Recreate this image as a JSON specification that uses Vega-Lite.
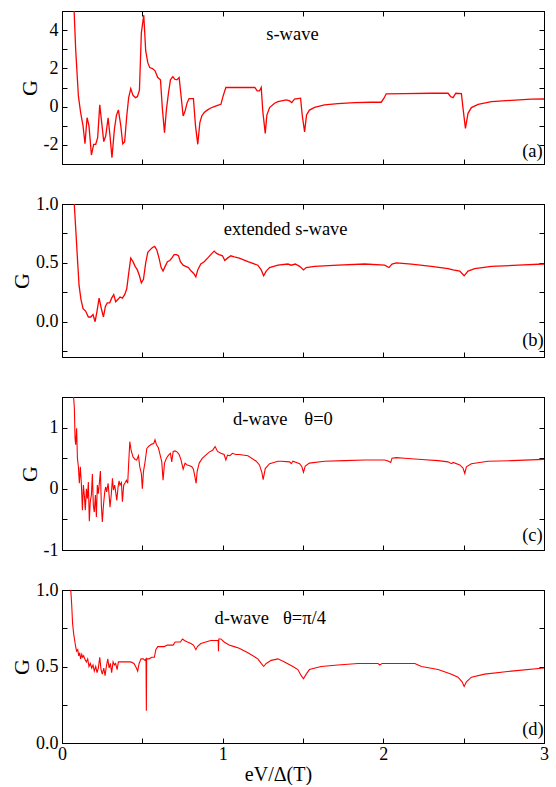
{
  "$schema": "https://vega.github.io/schema/vega-lite/v6.json",
  "autosize": {"type": "pad"},
  "padding": {"left": 10, "top": 1, "right": 12, "bottom": 0},
  "bounds": "flush",
  "spacing": 40,
  "background": "white",
  "config": {
    "font": "Liberation Serif",
    "view": {"stroke": "black", "strokeWidth": 1},
    "axis": {"grid": false, "domainColor": "black", "tickColor": "black", "labelColor": "black", "titleColor": "black", "tickSize": -5, "labelPadding": 9, "labelFont": "Liberation Serif", "titleFont": "Liberation Serif", "labelFontSize": 18, "titleFontWeight": "normal", "labelFlush": false, "labelOverlap": false, "labelBound": false, "domainWidth": 1, "tickWidth": 1}
  },
  "datasets": {
    "a": [
      {"x":0.07,"y":6},{"x":0.075,"y":5.1},{"x":0.085,"y":3.0},{"x":0.102,"y":0.56},{"x":0.116,"y":-0.31},{"x":0.131,"y":-1.01},{"x":0.143,"y":-1.94},{"x":0.156,"y":-0.58},{"x":0.168,"y":-1.01},{"x":0.183,"y":-2.53},{"x":0.197,"y":-1.97},{"x":0.21,"y":-1.97},{"x":0.222,"y":-1.62},{"x":0.235,"y":0.09},{"x":0.247,"y":-0.84},{"x":0.26,"y":-1.83},{"x":0.272,"y":-1.54},{"x":0.287,"y":-0.59},{"x":0.299,"y":-1.54},{"x":0.311,"y":-2.67},{"x":0.326,"y":-1.19},{"x":0.339,"y":-0.45},{"x":0.351,"y":-0.17},{"x":0.366,"y":-1.01},{"x":0.378,"y":-1.94},{"x":0.39,"y":-1.83},{"x":0.403,"y":-0.49},{"x":0.415,"y":0.47},{"x":0.428,"y":0.94},{"x":0.442,"y":0.59},{"x":0.457,"y":0.47},{"x":0.469,"y":0.52},{"x":0.482,"y":0.86},{"x":0.494,"y":3.87},{"x":0.509,"y":4.78},{"x":0.521,"y":2.91},{"x":0.534,"y":2.3},{"x":0.546,"y":2.04},{"x":0.563,"y":1.99},{"x":0.579,"y":1.87},{"x":0.596,"y":1.52},{"x":0.613,"y":1.4},{"x":0.625,"y":-0.14},{"x":0.638,"y":-1.36},{"x":0.65,"y":-0.14},{"x":0.663,"y":0.73},{"x":0.675,"y":1.4},{"x":0.69,"y":1.57},{"x":0.702,"y":1.43},{"x":0.715,"y":1.4},{"x":0.729,"y":1.52},{"x":0.741,"y":0.56},{"x":0.754,"y":-0.49},{"x":0.766,"y":-0.23},{"x":0.779,"y":0.21},{"x":0.791,"y":0.42},{"x":0.806,"y":0.42},{"x":0.818,"y":0.42},{"x":0.831,"y":-1.01},{"x":0.845,"y":-1.97},{"x":0.858,"y":-0.84},{"x":0.87,"y":-0.49},{"x":0.885,"y":-0.31},{"x":0.906,"y":-0.17},{"x":0.926,"y":-0.07},{"x":0.947,"y":0},{"x":0.968,"y":0.07},{"x":0.989,"y":0.12},{"x":1.003,"y":0.56},{"x":1.02,"y":1.0},{"x":1.2,"y":1.0},{"x":1.215,"y":0.82},{"x":1.229,"y":0.82},{"x":1.24,"y":1.0},{"x":1.25,"y":-0.26},{"x":1.265,"y":-1.4},{"x":1.275,"y":-0.44},{"x":1.292,"y":-0.05},{"x":1.323,"y":0.18},{"x":1.344,"y":0.26},{"x":1.396,"y":0.35},{"x":1.417,"y":0.3},{"x":1.43,"y":0.21},{"x":1.447,"y":0.39},{"x":1.485,"y":0.44},{"x":1.495,"y":-0.44},{"x":1.51,"y":-1.32},{"x":1.522,"y":-0.44},{"x":1.54,"y":-0.18},{"x":1.572,"y":-0.04},{"x":1.634,"y":0.09},{"x":1.717,"y":0.16},{"x":1.821,"y":0.21},{"x":1.925,"y":0.23},{"x":1.987,"y":0.23},{"x":2.004,"y":0.44},{"x":2.018,"y":0.67},{"x":2.133,"y":0.68},{"x":2.299,"y":0.7},{"x":2.403,"y":0.7},{"x":2.418,"y":0.53},{"x":2.434,"y":0.47},{"x":2.451,"y":0.7},{"x":2.486,"y":0.68},{"x":2.496,"y":-0.09},{"x":2.511,"y":-1.14},{"x":2.527,"y":-0.35},{"x":2.548,"y":-0.05},{"x":2.59,"y":0.12},{"x":2.673,"y":0.26},{"x":2.797,"y":0.33},{"x":2.922,"y":0.39},{"x":3.0,"y":0.4}
    ],
    "b": [
      {"x":0.07,"y":1.3},{"x":0.075,"y":1.03},{"x":0.085,"y":0.8},{"x":0.096,"y":0.54},{"x":0.106,"y":0.31},{"x":0.118,"y":0.19},{"x":0.131,"y":0.11},{"x":0.147,"y":0.09},{"x":0.164,"y":0.04},{"x":0.179,"y":0.04},{"x":0.193,"y":0.06},{"x":0.206,"y":0.0},{"x":0.218,"y":0.09},{"x":0.231,"y":0.2},{"x":0.245,"y":0.11},{"x":0.258,"y":0.04},{"x":0.27,"y":0.13},{"x":0.282,"y":0.16},{"x":0.297,"y":0.16},{"x":0.309,"y":0.2},{"x":0.322,"y":0.23},{"x":0.334,"y":0.17},{"x":0.349,"y":0.19},{"x":0.361,"y":0.21},{"x":0.376,"y":0.2},{"x":0.39,"y":0.23},{"x":0.403,"y":0.28},{"x":0.415,"y":0.41},{"x":0.428,"y":0.54},{"x":0.442,"y":0.51},{"x":0.455,"y":0.47},{"x":0.469,"y":0.44},{"x":0.482,"y":0.39},{"x":0.494,"y":0.33},{"x":0.507,"y":0.36},{"x":0.521,"y":0.5},{"x":0.534,"y":0.59},{"x":0.548,"y":0.61},{"x":0.563,"y":0.63},{"x":0.577,"y":0.64},{"x":0.59,"y":0.61},{"x":0.604,"y":0.54},{"x":0.617,"y":0.46},{"x":0.629,"y":0.43},{"x":0.642,"y":0.47},{"x":0.656,"y":0.51},{"x":0.671,"y":0.52},{"x":0.683,"y":0.54},{"x":0.698,"y":0.57},{"x":0.712,"y":0.57},{"x":0.725,"y":0.56},{"x":0.737,"y":0.51},{"x":0.754,"y":0.48},{"x":0.77,"y":0.47},{"x":0.787,"y":0.46},{"x":0.804,"y":0.43},{"x":0.82,"y":0.41},{"x":0.833,"y":0.38},{"x":0.845,"y":0.44},{"x":0.864,"y":0.49},{"x":0.885,"y":0.51},{"x":0.906,"y":0.54},{"x":0.926,"y":0.57},{"x":0.947,"y":0.6},{"x":0.962,"y":0.58},{"x":0.978,"y":0.57},{"x":0.999,"y":0.56},{"x":1.013,"y":0.52},{"x":1.03,"y":0.54},{"x":1.051,"y":0.56},{"x":1.072,"y":0.55},{"x":1.103,"y":0.54},{"x":1.157,"y":0.51},{"x":1.219,"y":0.48},{"x":1.24,"y":0.44},{"x":1.255,"y":0.39},{"x":1.271,"y":0.43},{"x":1.292,"y":0.46},{"x":1.344,"y":0.48},{"x":1.406,"y":0.49},{"x":1.427,"y":0.48},{"x":1.452,"y":0.49},{"x":1.479,"y":0.47},{"x":1.503,"y":0.44},{"x":1.52,"y":0.46},{"x":1.572,"y":0.47},{"x":1.717,"y":0.48},{"x":1.884,"y":0.49},{"x":2.008,"y":0.48},{"x":2.035,"y":0.46},{"x":2.054,"y":0.49},{"x":2.081,"y":0.5},{"x":2.175,"y":0.49},{"x":2.299,"y":0.47},{"x":2.403,"y":0.45},{"x":2.434,"y":0.44},{"x":2.476,"y":0.43},{"x":2.503,"y":0.39},{"x":2.527,"y":0.43},{"x":2.569,"y":0.45},{"x":2.673,"y":0.47},{"x":2.839,"y":0.48},{"x":3.0,"y":0.49}
    ],
    "c": [
      {"x":0.068,"y":1.7},{"x":0.071,"y":1.54},{"x":0.077,"y":1.32},{"x":0.081,"y":0.83},{"x":0.085,"y":0.72},{"x":0.091,"y":0.99},{"x":0.096,"y":0.5},{"x":0.102,"y":0.36},{"x":0.108,"y":0.09},{"x":0.114,"y":0.36},{"x":0.12,"y":0.11},{"x":0.127,"y":-0.35},{"x":0.133,"y":0.06},{"x":0.139,"y":-0.1},{"x":0.145,"y":-0.35},{"x":0.152,"y":0.0},{"x":0.158,"y":-0.16},{"x":0.164,"y":0.11},{"x":0.17,"y":-0.53},{"x":0.176,"y":-0.21},{"x":0.183,"y":-0.1},{"x":0.189,"y":0.24},{"x":0.195,"y":-0.27},{"x":0.201,"y":-0.38},{"x":0.208,"y":-0.1},{"x":0.214,"y":-0.46},{"x":0.22,"y":0.06},{"x":0.226,"y":-0.08},{"x":0.233,"y":0.11},{"x":0.239,"y":0.29},{"x":0.245,"y":-0.27},{"x":0.251,"y":-0.54},{"x":0.258,"y":-0.27},{"x":0.266,"y":-0.05},{"x":0.272,"y":0.03},{"x":0.278,"y":-0.05},{"x":0.287,"y":0.09},{"x":0.293,"y":-0.1},{"x":0.299,"y":-0.3},{"x":0.307,"y":-0.08},{"x":0.314,"y":0.17},{"x":0.32,"y":-0.02},{"x":0.328,"y":0.06},{"x":0.334,"y":-0.05},{"x":0.341,"y":-0.19},{"x":0.349,"y":0.03},{"x":0.355,"y":0.13},{"x":0.361,"y":0.06},{"x":0.37,"y":0.1},{"x":0.376,"y":-0.21},{"x":0.384,"y":0.06},{"x":0.393,"y":0.1},{"x":0.401,"y":0.14},{"x":0.409,"y":0.09},{"x":0.415,"y":0.42},{"x":0.422,"y":0.77},{"x":0.43,"y":0.63},{"x":0.442,"y":0.52},{"x":0.455,"y":0.48},{"x":0.465,"y":0.47},{"x":0.476,"y":0.54},{"x":0.484,"y":0.36},{"x":0.494,"y":0.25},{"x":0.5,"y":0.0},{"x":0.507,"y":0.28},{"x":0.517,"y":0.44},{"x":0.528,"y":0.66},{"x":0.542,"y":0.7},{"x":0.559,"y":0.73},{"x":0.571,"y":0.74},{"x":0.579,"y":0.8},{"x":0.588,"y":0.72},{"x":0.6,"y":0.67},{"x":0.611,"y":0.55},{"x":0.621,"y":0.44},{"x":0.629,"y":0.14},{"x":0.638,"y":0.42},{"x":0.65,"y":0.5},{"x":0.663,"y":0.55},{"x":0.675,"y":0.58},{"x":0.683,"y":0.44},{"x":0.692,"y":0.61},{"x":0.704,"y":0.62},{"x":0.717,"y":0.6},{"x":0.729,"y":0.56},{"x":0.741,"y":0.47},{"x":0.754,"y":0.32},{"x":0.766,"y":0.42},{"x":0.779,"y":0.39},{"x":0.791,"y":0.38},{"x":0.808,"y":0.36},{"x":0.818,"y":0.32},{"x":0.829,"y":0.17},{"x":0.835,"y":0.09},{"x":0.841,"y":0.28},{"x":0.854,"y":0.42},{"x":0.874,"y":0.5},{"x":0.895,"y":0.55},{"x":0.916,"y":0.6},{"x":0.937,"y":0.63},{"x":0.953,"y":0.69},{"x":0.968,"y":0.61},{"x":0.989,"y":0.58},{"x":1.009,"y":0.56},{"x":1.02,"y":0.47},{"x":1.03,"y":0.55},{"x":1.045,"y":0.54},{"x":1.061,"y":0.58},{"x":1.082,"y":0.56},{"x":1.103,"y":0.56},{"x":1.157,"y":0.54},{"x":1.209,"y":0.45},{"x":1.229,"y":0.39},{"x":1.244,"y":0.27},{"x":1.252,"y":0.15},{"x":1.265,"y":0.33},{"x":1.292,"y":0.41},{"x":1.344,"y":0.45},{"x":1.364,"y":0.45},{"x":1.417,"y":0.44},{"x":1.427,"y":0.41},{"x":1.437,"y":0.45},{"x":1.479,"y":0.41},{"x":1.493,"y":0.36},{"x":1.503,"y":0.27},{"x":1.514,"y":0.37},{"x":1.54,"y":0.42},{"x":1.634,"y":0.45},{"x":1.759,"y":0.46},{"x":1.884,"y":0.47},{"x":2.008,"y":0.47},{"x":2.033,"y":0.45},{"x":2.046,"y":0.43},{"x":2.054,"y":0.5},{"x":2.081,"y":0.51},{"x":2.133,"y":0.5},{"x":2.237,"y":0.48},{"x":2.341,"y":0.46},{"x":2.403,"y":0.44},{"x":2.424,"y":0.41},{"x":2.434,"y":0.43},{"x":2.476,"y":0.39},{"x":2.496,"y":0.34},{"x":2.507,"y":0.25},{"x":2.517,"y":0.36},{"x":2.548,"y":0.41},{"x":2.652,"y":0.45},{"x":2.797,"y":0.46},{"x":3.0,"y":0.48}
    ],
    "d": [
      {"x":0.05,"y":1.1},{"x":0.054,"y":1.01},{"x":0.06,"y":0.91},{"x":0.066,"y":0.78},{"x":0.073,"y":0.71},{"x":0.079,"y":0.67},{"x":0.085,"y":0.63},{"x":0.091,"y":0.6},{"x":0.098,"y":0.61},{"x":0.104,"y":0.57},{"x":0.11,"y":0.59},{"x":0.116,"y":0.55},{"x":0.123,"y":0.58},{"x":0.129,"y":0.56},{"x":0.135,"y":0.57},{"x":0.141,"y":0.55},{"x":0.152,"y":0.53},{"x":0.16,"y":0.55},{"x":0.168,"y":0.5},{"x":0.176,"y":0.52},{"x":0.185,"y":0.49},{"x":0.193,"y":0.51},{"x":0.201,"y":0.47},{"x":0.21,"y":0.5},{"x":0.218,"y":0.46},{"x":0.226,"y":0.49},{"x":0.235,"y":0.56},{"x":0.243,"y":0.48},{"x":0.251,"y":0.45},{"x":0.26,"y":0.49},{"x":0.268,"y":0.44},{"x":0.276,"y":0.5},{"x":0.285,"y":0.55},{"x":0.293,"y":0.49},{"x":0.301,"y":0.52},{"x":0.309,"y":0.46},{"x":0.318,"y":0.53},{"x":0.326,"y":0.51},{"x":0.334,"y":0.52},{"x":0.343,"y":0.48},{"x":0.351,"y":0.53},{"x":0.366,"y":0.53},{"x":0.386,"y":0.53},{"x":0.407,"y":0.53},{"x":0.428,"y":0.53},{"x":0.448,"y":0.52},{"x":0.463,"y":0.49},{"x":0.471,"y":0.47},{"x":0.48,"y":0.52},{"x":0.492,"y":0.55},{"x":0.505,"y":0.55},{"x":0.517,"y":0.54},{"x":0.523,"y":0.55},{"x":0.525,"y":0.21},{"x":0.527,"y":0.55},{"x":0.542,"y":0.55},{"x":0.559,"y":0.56},{"x":0.575,"y":0.56},{"x":0.584,"y":0.61},{"x":0.596,"y":0.63},{"x":0.615,"y":0.63},{"x":0.636,"y":0.63},{"x":0.656,"y":0.64},{"x":0.677,"y":0.64},{"x":0.692,"y":0.64},{"x":0.704,"y":0.66},{"x":0.712,"y":0.66},{"x":0.725,"y":0.66},{"x":0.737,"y":0.66},{"x":0.75,"y":0.68},{"x":0.762,"y":0.67},{"x":0.781,"y":0.66},{"x":0.802,"y":0.65},{"x":0.818,"y":0.64},{"x":0.833,"y":0.61},{"x":0.843,"y":0.63},{"x":0.864,"y":0.65},{"x":0.895,"y":0.66},{"x":0.926,"y":0.67},{"x":0.957,"y":0.67},{"x":0.972,"y":0.67},{"x":0.974,"y":0.6},{"x":0.976,"y":0.68},{"x":0.989,"y":0.68},{"x":1.009,"y":0.66},{"x":1.04,"y":0.64},{"x":1.072,"y":0.63},{"x":1.103,"y":0.62},{"x":1.157,"y":0.59},{"x":1.219,"y":0.55},{"x":1.24,"y":0.52},{"x":1.255,"y":0.5},{"x":1.271,"y":0.52},{"x":1.302,"y":0.54},{"x":1.344,"y":0.55},{"x":1.385,"y":0.53},{"x":1.437,"y":0.5},{"x":1.468,"y":0.48},{"x":1.489,"y":0.44},{"x":1.503,"y":0.42},{"x":1.52,"y":0.45},{"x":1.54,"y":0.48},{"x":1.613,"y":0.5},{"x":1.717,"y":0.51},{"x":1.842,"y":0.52},{"x":1.967,"y":0.52},{"x":1.977,"y":0.51},{"x":1.992,"y":0.52},{"x":2.092,"y":0.52},{"x":2.196,"y":0.52},{"x":2.237,"y":0.5},{"x":2.341,"y":0.48},{"x":2.424,"y":0.45},{"x":2.465,"y":0.43},{"x":2.49,"y":0.4},{"x":2.503,"y":0.37},{"x":2.517,"y":0.4},{"x":2.548,"y":0.43},{"x":2.631,"y":0.45},{"x":2.797,"y":0.47},{"x":3.0,"y":0.49}
    ],
    "labels": [
      {"p":"a","x":1.271,"y":3.8,"t":"s-wave"},{"p":"a","x":2.864,"y":-2.33,"t":"(a)"},
      {"p":"b","x":1.007,"y":0.79,"t":"extended s-wave"},{"p":"b","x":2.864,"y":-0.155,"t":"(b)"},
      {"p":"c","x":1.065,"y":1.14,"t":"d-wave"},{"p":"c","x":1.508,"y":1.14,"t":"θ=0"},{"p":"c","x":2.864,"y":-0.76,"t":"(c)"},
      {"p":"d","x":0.949,"y":0.814,"t":"d-wave"},{"p":"d","x":1.375,"y":0.814,"t":"θ=π/4"},{"p":"d","x":2.864,"y":0.094,"t":"(d)"}
    ]
  },
  "vconcat": [
    {
      "width": 482, "height": 153,
      "layer": [
        {"data": {"name": "a"}, "mark": {"type": "line", "color": "#ff0000", "strokeWidth": 1.3, "clip": true},
         "encoding": {
           "x": {"field": "x", "type": "quantitative", "scale": {"domain": [0, 3], "nice": false}, "axis": {"orient": "bottom", "values": [0,0.5,1,1.5,2,2.5,3], "labels": false, "title": null}},
           "y": {"field": "y", "type": "quantitative", "scale": {"domain": [-3, 5], "nice": false, "zero": false}, "axis": {"orient": "left", "values": [-3,-2,-1,0,1,2,3,4,5], "labelExpr": "datum.value % 2 == 0 ? '' + datum.value : ''", "title": "G", "titleFontSize": 22, "titlePadding": 2}}
         }},
        {"data": {"name": "labels"}, "transform": [{"filter": "datum.p == 'a'"}],
         "mark": {"type": "text", "align": "left", "baseline": "middle", "fontSize": 18.5, "font": "Liberation Serif", "color": "black"},
         "encoding": {
           "x": {"field": "x", "type": "quantitative", "scale": {"domain": [0, 3], "nice": false}, "axis": {"orient": "top", "values": [0,0.5,1,1.5,2,2.5,3], "labels": false, "title": null}},
           "y": {"field": "y", "type": "quantitative", "scale": {"domain": [-3, 5], "nice": false, "zero": false}, "axis": {"orient": "right", "values": [-3,-2,-1,0,1,2,3,4,5], "labels": false, "title": null}},
           "text": {"field": "t"}
         }}
      ],
      "resolve": {"axis": {"x": "independent", "y": "independent"}}
    },
    {
      "width": 482, "height": 153,
      "layer": [
        {"data": {"name": "b"}, "mark": {"type": "line", "color": "#ff0000", "strokeWidth": 1.3, "clip": true},
         "encoding": {
           "x": {"field": "x", "type": "quantitative", "scale": {"domain": [0, 3], "nice": false}, "axis": {"orient": "bottom", "values": [0,0.5,1,1.5,2,2.5,3], "labels": false, "title": null}},
           "y": {"field": "y", "type": "quantitative", "scale": {"domain": [-0.3, 1.0], "nice": false, "zero": false}, "axis": {"orient": "left", "values": [-0.25,0,0.25,0.5,0.75,1.0], "labelExpr": "(datum.value * 2) % 1 == 0 ? format(datum.value, '.1f') : ''", "title": "G", "titleFontSize": 22, "titlePadding": 2}}
         }},
        {"data": {"name": "labels"}, "transform": [{"filter": "datum.p == 'b'"}],
         "mark": {"type": "text", "align": "left", "baseline": "middle", "fontSize": 18.5, "font": "Liberation Serif", "color": "black"},
         "encoding": {
           "x": {"field": "x", "type": "quantitative", "scale": {"domain": [0, 3], "nice": false}, "axis": {"orient": "top", "values": [0,0.5,1,1.5,2,2.5,3], "labels": false, "title": null}},
           "y": {"field": "y", "type": "quantitative", "scale": {"domain": [-0.3, 1.0], "nice": false, "zero": false}, "axis": {"orient": "right", "values": [-0.25,0,0.25,0.5,0.75,1.0], "labels": false, "title": null}},
           "text": {"field": "t"}
         }}
      ],
      "resolve": {"axis": {"x": "independent", "y": "independent"}}
    },
    {
      "width": 482, "height": 153,
      "layer": [
        {"data": {"name": "c"}, "mark": {"type": "line", "color": "#ff0000", "strokeWidth": 1.1, "clip": true},
         "encoding": {
           "x": {"field": "x", "type": "quantitative", "scale": {"domain": [0, 3], "nice": false}, "axis": {"orient": "bottom", "values": [0,0.5,1,1.5,2,2.5,3], "labels": false, "title": null}},
           "y": {"field": "y", "type": "quantitative", "scale": {"domain": [-1, 1.5], "nice": false, "zero": false}, "axis": {"orient": "left", "values": [-1,-0.5,0,0.5,1,1.5], "labelExpr": "datum.value % 1 == 0 && datum.value < 1.5 ? '' + datum.value : ''", "title": "G", "titleFontSize": 22, "titlePadding": 2}}
         }},
        {"data": {"name": "labels"}, "transform": [{"filter": "datum.p == 'c'"}],
         "mark": {"type": "text", "align": "left", "baseline": "middle", "fontSize": 18.5, "font": "Liberation Serif", "color": "black"},
         "encoding": {
           "x": {"field": "x", "type": "quantitative", "scale": {"domain": [0, 3], "nice": false}, "axis": {"orient": "top", "values": [0,0.5,1,1.5,2,2.5,3], "labels": false, "title": null}},
           "y": {"field": "y", "type": "quantitative", "scale": {"domain": [-1, 1.5], "nice": false, "zero": false}, "axis": {"orient": "right", "values": [-1,-0.5,0,0.5,1,1.5], "labels": false, "title": null}},
           "text": {"field": "t"}
         }}
      ],
      "resolve": {"axis": {"x": "independent", "y": "independent"}}
    },
    {
      "width": 482, "height": 153,
      "layer": [
        {"data": {"name": "d"}, "mark": {"type": "line", "color": "#ff0000", "strokeWidth": 1.1, "clip": true},
         "encoding": {
           "x": {"field": "x", "type": "quantitative", "scale": {"domain": [0, 3], "nice": false}, "axis": {"orient": "bottom", "values": [0,0.5,1,1.5,2,2.5,3], "labelExpr": "datum.value % 1 == 0 ? '' + datum.value : ''", "labelPadding": 7, "title": "eV/Δ(T)", "titleFontSize": 20, "titleX": 216, "titlePadding": 1}},
           "y": {"field": "y", "type": "quantitative", "scale": {"domain": [0, 1], "nice": false, "zero": false}, "axis": {"orient": "left", "values": [0,0.25,0.5,0.75,1], "labelExpr": "(datum.value * 2) % 1 == 0 ? format(datum.value, '.1f') : ''", "title": "G", "titleFontSize": 22, "titlePadding": 2}}
         }},
        {"data": {"name": "labels"}, "transform": [{"filter": "datum.p == 'd'"}],
         "mark": {"type": "text", "align": "left", "baseline": "middle", "fontSize": 18.5, "font": "Liberation Serif", "color": "black"},
         "encoding": {
           "x": {"field": "x", "type": "quantitative", "scale": {"domain": [0, 3], "nice": false}, "axis": {"orient": "top", "values": [0,0.5,1,1.5,2,2.5,3], "labels": false, "title": null}},
           "y": {"field": "y", "type": "quantitative", "scale": {"domain": [0, 1], "nice": false, "zero": false}, "axis": {"orient": "right", "values": [0,0.25,0.5,0.75,1], "labels": false, "title": null}},
           "text": {"field": "t"}
         }}
      ],
      "resolve": {"axis": {"x": "independent", "y": "independent"}}
    }
  ]
}
